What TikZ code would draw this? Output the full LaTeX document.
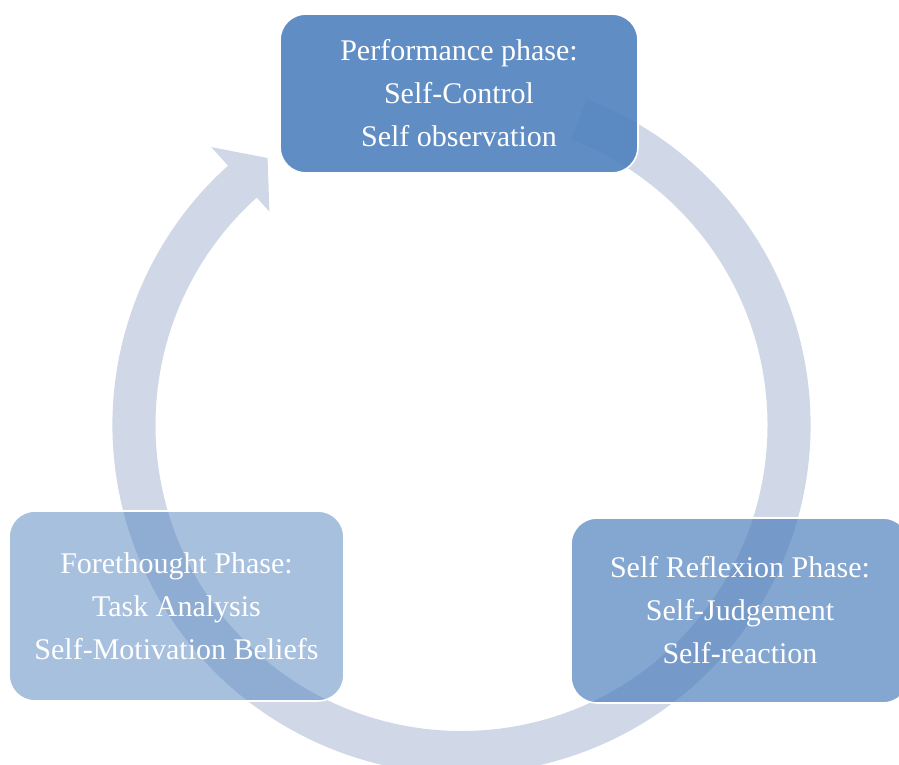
\documentclass[tikz,border=0pt]{standalone}
\usepackage{fontspec}
\setmainfont{Liberation Serif}
\usepackage{tikz}
\definecolor{ringgrey}{HTML}{D0D8E8}
\definecolor{phaseblue}{HTML}{4F81BD}
\tikzset{
  phasebox/.style={rectangle, rounded corners=26pt, draw=white, line width=1.6pt,
    fill=phaseblue, text=white, align=center, inner sep=0pt,
    font=\fontsize{30}{43}\selectfont},
}
\begin{document}
\begin{tikzpicture}[x=1pt,y=1pt]
        \useasboundingbox (0,0) rectangle (899,-765); % page size
        \begin{scope}[shift={(461.5,-425)}]
        \fill[ringgrey] (69:349) arc[start angle=69, end angle=-228, radius=349]
          -- (-228:374) -- (-234:330) -- (-228:287) -- (-228:306)
          arc[start angle=-228, end angle=69, radius=306] -- cycle; % cycle arrow
        \end{scope}
        \node[phasebox, fill opacity=0.9, text opacity=1, minimum width=358, minimum height=159]
          (perf) at (459,-93.5) {Performance phase:\\Self-Control\\Self observation}; % top phase
        \node[phasebox, fill opacity=0.5, text opacity=1, minimum width=335, minimum height=190]
          (fore) at (176.5,-606) {Forethought Phase:\\Task Analysis\\Self-Motivation Beliefs}; % left phase
        \node[phasebox, fill opacity=0.7, text opacity=1, minimum width=338, minimum height=185]
          (refl) at (740,-610.5) {Self Reflexion Phase:\\Self-Judgement\\Self-reaction}; % right phase
      \end{tikzpicture}
\end{document}
